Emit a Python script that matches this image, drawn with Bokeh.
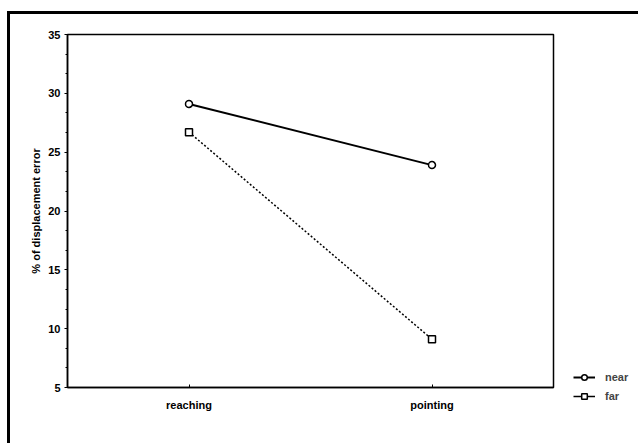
from bokeh.plotting import figure
from bokeh.models import Legend, LegendItem, FactorRange, Range1d, FixedTicker
from bokeh.embed import file_html
from bokeh.resources import INLINE

tasks = ["reaching", "pointing"]
near = [29.1, 23.9]
far = [26.7, 9.1]
y_ticks = [5, 10, 15, 20, 25, 30, 35]

FONT = "Liberation Sans"

# minor ticks: two between each pair of majors
minor = []
for a, b in zip(y_ticks[:-1], y_ticks[1:]):
    minor += [a + (b - a) / 3, a + 2 * (b - a) / 3]

p = figure(frame_width=486, frame_height=353, output_backend="svg", toolbar_location=None,
           x_range=FactorRange(*tasks), y_range=Range1d(5, 35),
           min_border_left=57, min_border_top=20, min_border_right=85, min_border_bottom=56)
p.styles = {"border-left": "3px solid black", "border-top": "3px solid black",
            "margin-left": "7px", "margin-top": "11px"}

p.xgrid.visible = False
p.ygrid.visible = False
p.outline_line_color = "black"
p.outline_line_width = 1.5
p.outline_line_alpha = 1

p.yaxis.ticker = FixedTicker(ticks=y_ticks, minor_ticks=minor)
p.yaxis.major_tick_out = 3
p.yaxis.major_tick_in = 0
p.yaxis.minor_tick_out = 2
p.yaxis.minor_tick_in = 0
p.yaxis.minor_tick_line_color = "black"
p.yaxis.axis_line_width = 1.5
p.yaxis.axis_label = "% of displacement error"
p.yaxis.axis_label_text_font = FONT
p.yaxis.axis_label_text_font_style = "bold"
p.yaxis.axis_label_text_font_size = "11px"
p.yaxis.axis_label_standoff = 3
p.yaxis.major_label_text_font = FONT
p.yaxis.major_label_text_font_style = "bold"
p.yaxis.major_label_text_font_size = "11px"
p.yaxis.major_label_standoff = 4

p.xaxis.major_tick_in = 3
p.xaxis.major_tick_out = 0
p.xaxis.axis_line_width = 1.5
p.xaxis.major_label_text_font = FONT
p.xaxis.major_label_text_font_style = "bold"
p.xaxis.major_label_text_font_size = "11px"
p.xaxis.major_label_standoff = 11

for ax in (p.xaxis, p.yaxis):
    ax.axis_line_color = "black"
    ax.major_tick_line_color = "black"
    ax.major_label_text_color = "black"
    ax.axis_label_text_color = "black"

l1 = p.line(tasks, near, line_color="black", line_width=2)
s1 = p.scatter(tasks, near, marker="circle", size=7, fill_color="white",
               line_color="black", line_width=1.5)
l2 = p.line(tasks, far, line_color="black", line_width=1.5, line_dash="2 2")
s2 = p.scatter(tasks, far, marker="square", size=7, fill_color="white",
               line_color="black", line_width=1.5)
# hidden solid copy, used only as the legend key of "far"
far_key = p.line(tasks, far, line_color="black", line_width=1.5, visible=False)
far_mk = p.scatter(tasks, far, marker="square", size=7, fill_color="white",
                   line_color="black", line_width=1.5, visible=False)

legend = Legend(items=[LegendItem(label="near", renderers=[l1, s1]),
                       LegendItem(label="far", renderers=[far_key, far_mk])],
                location=(20, -16), orientation="vertical")
legend.label_text_font = FONT
legend.label_text_font_style = "bold"
legend.label_text_font_size = "11px"
legend.glyph_width = 22
legend.glyph_height = 14
legend.label_standoff = 10
legend.spacing = 5
legend.padding = 0
legend.margin = 0
legend.border_line_alpha = 0
legend.background_fill_alpha = 0
legend.inactive_fill_alpha = 0
legend.click_policy = "none"
p.add_layout(legend, "right")

open("out.html", "w").write(file_html(p, INLINE))
